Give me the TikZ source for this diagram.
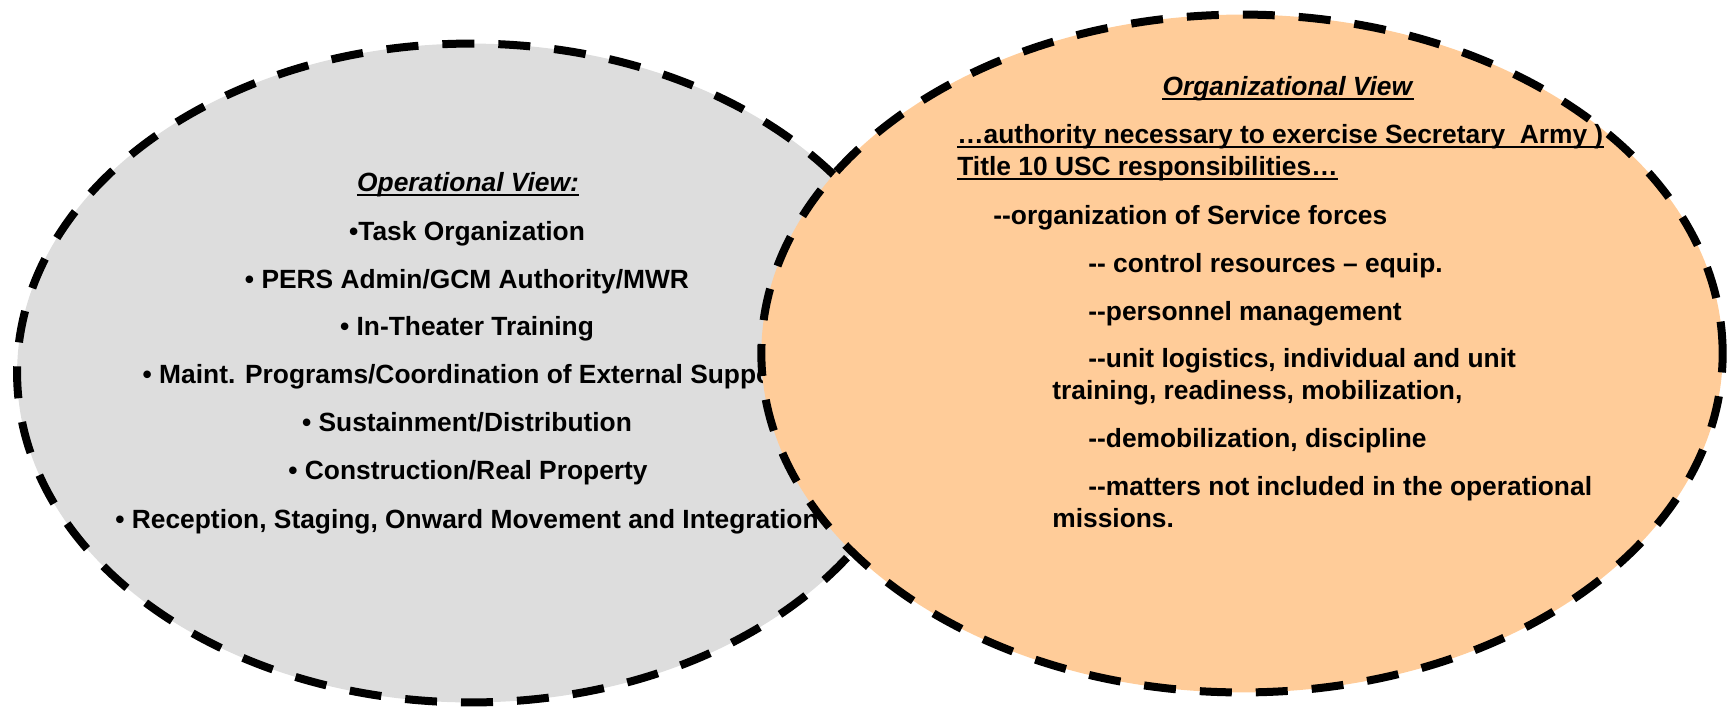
\documentclass[tikz,border=0pt]{standalone}
\usepackage{fontspec}
\setmainfont{Liberation Sans}
\usetikzlibrary{shapes.geometric}
\definecolor{opgrey}{RGB}{221,221,221}
\definecolor{orgpeach}{RGB}{255,204,153}

\begin{document}
\begin{tikzpicture}[x=0.02cm, y=-0.02cm,
	opline/.style={anchor=base, inner sep=0pt, font=\fontsize{15}{18}\selectfont\bfseries},
	orgline/.style={anchor=base west, inner sep=0pt, font=\fontsize{15}{18}\selectfont\bfseries},
	uline/.style={line width=0.04cm}]
				\useasboundingbox (0,0) rectangle (1727,707);
				% operational view
				\node[ellipse,
				minimum width = 18.16cm,
				minimum height = 13.18cm, inner sep=0pt, draw=black, fill=opgrey,
				line width=0.16cm, dash pattern=on 0.64cm off 0.48cm] (opview) at(471,373){};
				\node[opline] (op0) at(468,191){\textit{Operational View:}};
				\node[opline] (op1) at(467,240){•Task Organization};
				\node[opline] (op2) at(467,288){• PERS Admin/GCM Authority/MWR};
				\node[opline] (op3) at(467,335){• In-Theater Training};
				\node[opline] (op4) at(467,383){• Maint. Programs/Coordination of External Support};
				\node[opline] (op5) at(467,431){• Sustainment/Distribution};
				\node[opline] (op6) at(468,479){• Construction/Real Property};
				\node[opline] (op7) at(467,528){• Reception, Staging, Onward Movement and Integration};
				\draw[uline] ([yshift=-0.07cm]op0.base west) -- ([yshift=-0.07cm]op0.base east);
				% organizational view
				\node[ellipse,
				minimum width = 19.23cm,
				minimum height = 13.56cm, inner sep=0pt, draw=black, fill=orgpeach,
				line width=0.16cm, dash pattern=on 0.64cm off 0.48cm] (orgview) at(1242,353.5){};
				\node[opline] (or0) at(1288,95){\textit{Organizational View}};
				\node[orgline] (or1) at(957,143){…authority necessary to exercise Secretary\ \ Army )};
				\node[orgline] (or2) at(957,175){Title 10 USC responsibilities…};
				\node[orgline] (or3) at(993,224){-{}-organization of Service forces};
				\node[orgline] (or4) at(1088,272){-{}- control resources – equip.};
				\node[orgline] (or5) at(1088,320){-{}-personnel management};
				\node[orgline] (or6) at(1088,367){-{}-unit logistics, individual and unit};
				\node[orgline] (or7) at(1052,399){training, readiness, mobilization,};
				\node[orgline] (or8) at(1088,447){-{}-demobilization, discipline};
				\node[orgline] (or9) at(1088,495){-{}-matters not included in the operational};
				\node[orgline] (or10) at(1052,527){missions.};
				\draw[uline] ([yshift=-0.07cm]or0.base west) -- ([yshift=-0.07cm]or0.base east);
				\draw[uline] ([yshift=-0.07cm]or1.base west) -- ([yshift=-0.07cm]or1.base east);
				\draw[uline] ([yshift=-0.07cm]or2.base west) -- ([yshift=-0.07cm]or2.base east);
			\end{tikzpicture}
\end{document}
